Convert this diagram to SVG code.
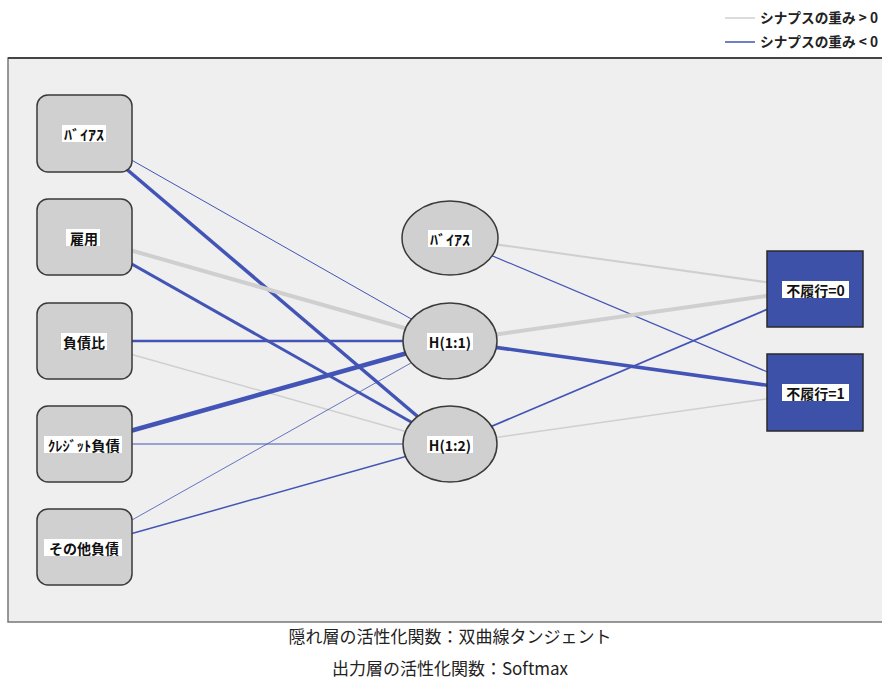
<svg xmlns="http://www.w3.org/2000/svg" width="882" height="681" viewBox="0 0 882 681">
  <style>
    .lbl { font-family: "Noto Sans CJK JP", "Liberation Sans", sans-serif; font-size: 14px; font-weight: bold; fill: #111; text-anchor: middle; dominant-baseline: central; }
    .lblbg { fill: #ffffff; }
    .box { fill: #d0d0d0; stroke: #3a3a3a; stroke-width: 1.5; }
    .out { fill: #3d51a8; stroke: #2a2a2a; stroke-width: 1.5; }
    .pos { stroke: #cfcfcf; fill: none; }
    .neg { stroke: #4254b5; fill: none; }
    .legend { font-family: "Noto Sans CJK JP", "Liberation Sans", sans-serif; font-size: 14px; font-weight: bold; fill: #222; }
    .foot { font-family: "Noto Sans CJK JP", "Liberation Sans", sans-serif; font-size: 17px; fill: #222; text-anchor: middle; }
  </style>

  <rect x="0" y="0" width="882" height="681" fill="#ffffff"/>

  <!-- legend -->
  <g id="legend">
    <line x1="725" y1="18" x2="755" y2="18" stroke="#cfcfcf" stroke-width="1.5"/>
    <text class="legend" x="760" y="23" textLength="118" lengthAdjust="spacingAndGlyphs">シナプスの重み &gt; 0</text>
    <line x1="725" y1="42" x2="755" y2="42" stroke="#4254b5" stroke-width="1.5"/>
    <text class="legend" x="760" y="47" textLength="118" lengthAdjust="spacingAndGlyphs">シナプスの重み &lt; 0</text>
  </g>

  <!-- plot area -->
  <rect x="8" y="58" width="880" height="564" fill="#efefef" stroke="#777" stroke-width="1.5"/>
  <line x1="8" y1="58" x2="882" y2="58" stroke="#444" stroke-width="2"/>

  <!-- synapse weights -->
  <g id="connectors">
    <!-- input -> hidden -->
    <line class="neg" x1="84" y1="133" x2="450" y2="341" stroke-width="1"/>
    <line class="neg" x1="84" y1="133" x2="450" y2="444" stroke-width="3.5"/>
    <line class="pos" x1="84" y1="237" x2="450" y2="341" stroke-width="4"/>
    <line class="neg" x1="84" y1="237" x2="450" y2="444" stroke-width="3"/>
    <line class="neg" x1="84" y1="341" x2="450" y2="341" stroke-width="2.5"/>
    <line class="pos" x1="84" y1="341" x2="450" y2="444" stroke-width="1.5"/>
    <line class="neg" x1="84" y1="444" x2="450" y2="341" stroke-width="4.5"/>
    <line class="neg" x1="84" y1="444" x2="450" y2="444" stroke-width="1.2"/>
    <line class="neg" x1="84" y1="547" x2="450" y2="341" stroke-width="0.8"/>
    <line class="neg" x1="84" y1="547" x2="450" y2="444" stroke-width="1.5"/>
    <!-- hidden -> output -->
    <line class="pos" x1="450" y1="238" x2="815" y2="289" stroke-width="2"/>
    <line class="neg" x1="450" y1="238" x2="815" y2="392" stroke-width="1.2"/>
    <line class="pos" x1="450" y1="341" x2="815" y2="289" stroke-width="4"/>
    <line class="neg" x1="450" y1="341" x2="815" y2="392" stroke-width="3.5"/>
    <line class="neg" x1="450" y1="444" x2="815" y2="289" stroke-width="1.8"/>
    <line class="pos" x1="450" y1="444" x2="815" y2="392" stroke-width="1.5"/>
  </g>

  <!-- input layer -->
  <g id="in-bias">
    <rect class="box" x="37" y="95" width="95" height="77" rx="11"/>
    <rect class="lblbg" x="62" y="125" width="44" height="17"/>
    <text class="lbl" x="84" y="133.5" textLength="40" lengthAdjust="spacingAndGlyphs">ﾊﾞｲｱｽ</text>
  </g>
  <g id="in-employ">
    <rect class="box" x="37" y="199" width="95" height="76" rx="11"/>
    <rect class="lblbg" x="66" y="229" width="34" height="17"/>
    <text class="lbl" x="84" y="237.5">雇用</text>
  </g>
  <g id="in-debtratio">
    <rect class="box" x="37" y="303" width="95" height="76" rx="11"/>
    <rect class="lblbg" x="61" y="333" width="46" height="17"/>
    <text class="lbl" x="84" y="341.5">負債比</text>
  </g>
  <g id="in-creditdebt">
    <rect class="box" x="37" y="406" width="95" height="76" rx="11"/>
    <rect class="lblbg" x="44" y="436" width="78" height="17"/>
    <text class="lbl" x="84" y="444.5" textLength="72" lengthAdjust="spacingAndGlyphs">ｸﾚｼﾞｯﾄ負債</text>
  </g>
  <g id="in-otherdebt">
    <rect class="box" x="37" y="509" width="95" height="76" rx="11"/>
    <rect class="lblbg" x="44" y="539" width="78" height="17"/>
    <text class="lbl" x="84" y="547.5">その他負債</text>
  </g>

  <!-- hidden layer -->
  <g id="hid-bias">
    <ellipse class="box" cx="450" cy="238" rx="48" ry="37"/>
    <rect class="lblbg" x="428" y="230" width="44" height="17"/>
    <text class="lbl" x="450" y="238.5" textLength="40" lengthAdjust="spacingAndGlyphs">ﾊﾞｲｱｽ</text>
  </g>
  <g id="hid-1">
    <ellipse class="box" cx="450" cy="341" rx="47" ry="38"/>
    <rect class="lblbg" x="427" y="333" width="46" height="17"/>
    <text class="lbl" x="450" y="341.5">H(1:1)</text>
  </g>
  <g id="hid-2">
    <ellipse class="box" cx="450" cy="444" rx="47" ry="38"/>
    <rect class="lblbg" x="427" y="436" width="46" height="17"/>
    <text class="lbl" x="450" y="444.5">H(1:2)</text>
  </g>

  <!-- output layer -->
  <g id="out-0">
    <rect class="out" x="767" y="251" width="96" height="76"/>
    <rect class="lblbg" x="782" y="281" width="67" height="17"/>
    <text class="lbl" x="815.5" y="289.5">不履行=0</text>
  </g>
  <g id="out-1">
    <rect class="out" x="767" y="354" width="96" height="77"/>
    <rect class="lblbg" x="782" y="384" width="67" height="17"/>
    <text class="lbl" x="815.5" y="392.5">不履行=1</text>
  </g>

  <!-- activation notes -->
  <text class="foot" x="450" y="643">隠れ層の活性化関数：双曲線タンジェント</text>
  <text class="foot" x="450" y="675">出力層の活性化関数：Softmax</text>
</svg>
